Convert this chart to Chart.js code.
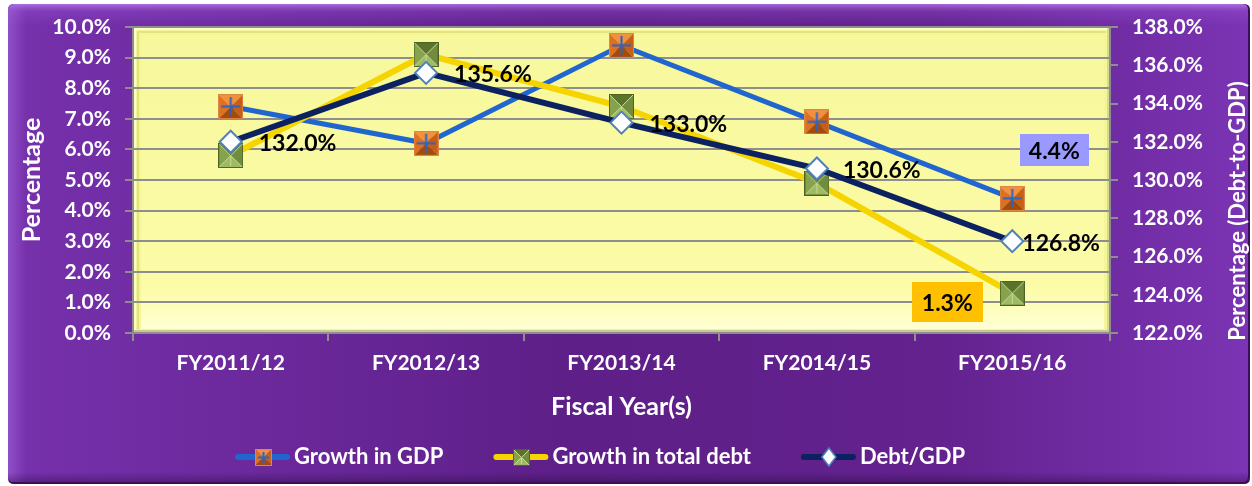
<!DOCTYPE html>
<html>
<head>
<meta charset="utf-8">
<script src="https://cdn.jsdelivr.net/npm/chart.js@4"></script>
<style>
  html,body{margin:0;padding:0;background:#ffffff;}
  #wrap{width:1252px;height:486px;}
  canvas{display:block;}
</style>
</head>
<body>
<div id="wrap"><canvas id="c" width="1252" height="486"></canvas></div>
<script>
// ---- data ----
const categories = ['FY2011/12', 'FY2012/13', 'FY2013/14', 'FY2014/15', 'FY2015/16'];
const gdpGrowth = [7.4, 6.2, 9.4, 6.9, 4.4];
const debtGrowth = [5.8, 9.1, 7.4, 4.9, 1.3];
const debtToGdp = [132.0, 135.6, 133.0, 130.6, 126.8];
const seriesNames = ['Growth in GDP', 'Growth in total debt', 'Debt/GDP'];
const leftTicks = { min: 0, max: 10, step: 1 };
const rightTicks = { min: 122, max: 138, step: 2 };

const FONT = 'Lato, "Open Sans", sans-serif';

// ---- marker images ----
function tri(g, a, b, c, d, e, f, col) {
  g.beginPath(); g.moveTo(a, b); g.lineTo(c, d); g.lineTo(e, f); g.closePath();
  g.fillStyle = col; g.fill();
}
function pyramid(size, faces, border) {
  const c = document.createElement('canvas');
  c.width = c.height = size;
  const g = c.getContext('2d');
  const m = size / 2;
  tri(g, 0, 0, size, 0, m, m, faces.top);
  tri(g, 0, 0, 0, size, m, m, faces.left);
  tri(g, size, 0, size, size, m, m, faces.right);
  tri(g, 0, size, size, size, m, m, faces.bottom);
  g.strokeStyle = border; g.lineWidth = 1;
  g.strokeRect(0.5, 0.5, size - 1, size - 1);
  return { c, g, m };
}
function gdpMarker(size) {
  const p = pyramid(size, { top: '#f2903e', left: '#e0701e', right: '#c85e12', bottom: '#a44a0a' }, '#d9884a');
  const g = p.g, m = p.m;
  g.strokeStyle = '#2a64c8'; g.lineWidth = size > 16 ? 2 : 1.5;
  g.beginPath();
  g.moveTo(3, m); g.lineTo(size - 3, m);
  g.moveTo(m, 3); g.lineTo(m, size - 3);
  g.stroke();
  return p.c;
}
function debtMarker(size) {
  const p = pyramid(size, { top: '#5a722c', left: '#86a24c', right: '#718c3c', bottom: '#9fba64' }, '#4d6322');
  const g = p.g, m = p.m;
  g.strokeStyle = '#c8dc94'; g.lineWidth = 1;
  g.beginPath();
  g.moveTo(1, 1); g.lineTo(size - 1, size - 1);
  g.moveTo(size - 1, 1); g.lineTo(1, size - 1);
  g.moveTo(m, m); g.lineTo(m, size - 2);
  g.stroke();
  return p.c;
}
const gdpImg = gdpMarker(25);
const debtImg = debtMarker(25);
const gdpLeg = gdpMarker(17);
const debtLeg = debtMarker(17);

// ---- background plugin ----
function roundRect(g, x, y, w, h, r) {
  g.beginPath();
  g.moveTo(x + r, y); g.lineTo(x + w - r, y); g.quadraticCurveTo(x + w, y, x + w, y + r);
  g.lineTo(x + w, y + h - r); g.quadraticCurveTo(x + w, y + h, x + w - r, y + h);
  g.lineTo(x + r, y + h); g.quadraticCurveTo(x, y + h, x, y + h - r);
  g.lineTo(x, y + r); g.quadraticCurveTo(x, y, x + r, y); g.closePath();
}
const bgPlugin = {
  id: 'bg',
  beforeDraw(chart) {
    const g = chart.ctx, W = chart.width, H = chart.height, a = chart.chartArea;
    g.save();
    g.fillStyle = '#ffffff'; g.fillRect(0, 0, W, H);
    const fx = 8, fy = 4, fw = W - 10, fh = H - 6;
    roundRect(g, fx, fy, fw, fh, 6);
    g.fillStyle = '#3a1055'; g.fill();
    roundRect(g, fx, fy, fw - 2, fh - 2, 6);
    const hg = g.createLinearGradient(fx, 0, fx + fw, 0);
    hg.addColorStop(0, '#7631ac');
    hg.addColorStop(0.45, '#5e1f88');
    hg.addColorStop(0.75, '#63228e');
    hg.addColorStop(1, '#7b34b4');
    g.fillStyle = hg; g.fill();
    g.save();
    roundRect(g, fx, fy, fw - 2, fh - 2, 6); g.clip();
    const tg = g.createLinearGradient(0, fy, 0, fy + 22);
    tg.addColorStop(0, 'rgba(190,130,240,0.75)');
    tg.addColorStop(0.35, 'rgba(150,80,210,0.35)');
    tg.addColorStop(1, 'rgba(150,80,210,0)');
    g.fillStyle = tg; g.fillRect(fx, fy, fw, 22);
    const lg = g.createLinearGradient(fx, 0, fx + 18, 0);
    lg.addColorStop(0, 'rgba(170,110,230,0.5)');
    lg.addColorStop(1, 'rgba(170,110,230,0)');
    g.fillStyle = lg; g.fillRect(fx, fy, 18, fh);
    const bg2 = g.createLinearGradient(0, fy + fh - 12, 0, fy + fh);
    bg2.addColorStop(0, 'rgba(40,10,60,0)');
    bg2.addColorStop(1, 'rgba(40,10,60,0.45)');
    g.fillStyle = bg2; g.fillRect(fx, fy + fh - 12, fw, 12);
    g.restore();

    // plot area (yellow)
    const x0 = a.left, y0 = a.top, w = a.right - a.left, h = a.bottom - a.top;
    g.fillStyle = '#f5f59a'; g.fillRect(x0, y0, w, h);
    const yg = g.createLinearGradient(0, y0, 0, y0 + h);
    yg.addColorStop(0, '#f7f79c');
    yg.addColorStop(0.85, '#fcfca8');
    yg.addColorStop(1, '#ffffd8');
    g.fillStyle = yg; g.fillRect(x0 + 8, y0 + 8, w - 14, h - 12);
    g.fillStyle = '#fdfdc8'; g.fillRect(x0, y0, w, 3);
    g.fillStyle = '#fdfdc8'; g.fillRect(x0, y0, 3, h);
    g.fillStyle = '#e4e47e'; g.fillRect(x0 + 4, y0 + 4, w - 8, 2);
    g.fillStyle = '#e4e47e'; g.fillRect(x0 + 4, y0 + 4, 2, h - 8);
    g.fillStyle = '#d8d890'; g.fillRect(x0 + w - 3, y0, 3, h);
    g.fillStyle = '#c8c890'; g.fillRect(x0, y0 + h - 3, w, 3);
    g.restore();
  }
};

// ---- labels / titles / legend plugin ----
const ratioLabelDx = [28, 28, 28, 26, 10];
const labelPlugin = {
  id: 'labels',
  afterDatasetsDraw(chart) {
    const g = chart.ctx;
    g.save();
    const metaR = chart.getDatasetMeta(0);
    g.font = 'bold 23px ' + FONT;
    g.fillStyle = '#000000';
    g.textBaseline = 'middle';
    g.textAlign = 'left';
    metaR.data.forEach((pt, i) => {
      g.fillText(debtToGdp[i].toFixed(1) + '%', pt.x + ratioLabelDx[i], pt.y + 2);
    });
    const last = categories.length - 1;
    const pG = chart.getDatasetMeta(2).data[last];
    const pD = chart.getDatasetMeta(1).data[last];
    function box(cx, cy, w, h, col, txt) {
      g.fillStyle = col;
      g.fillRect(Math.round(cx - w / 2), Math.round(cy - h / 2), w, h);
      g.fillStyle = '#000';
      g.textAlign = 'center';
      g.fillText(txt, cx, cy + 1);
    }
    box(pG.x + 42, pG.y - 48, 69, 32, '#9999ff', gdpGrowth[last].toFixed(1) + '%');
    box(pD.x - 65, pD.y + 9, 71, 40, '#ffc000', debtGrowth[last].toFixed(1) + '%');
    g.restore();
  },
  afterDraw(chart) {
    const g = chart.ctx, a = chart.chartArea;
    g.save();
    g.translate(chart.width - 14, (a.top + a.bottom) / 2 + 31);
    g.rotate(-Math.PI / 2);
    g.font = 'bold 22px ' + FONT;
    g.fillStyle = '#ffffff';
    g.textAlign = 'center';
    g.textBaseline = 'middle';
    g.fillText('Percentage (Debt-to-GDP)', 0, 0);
    g.restore();

    // legend
    g.save();
    g.font = 'bold 22px ' + FONT;
    g.textBaseline = 'middle';
    g.textAlign = 'left';
    const items = [
      { name: seriesNames[0], color: '#2166cf', img: gdpLeg },
      { name: seriesNames[1], color: '#f6d400', img: debtLeg },
      { name: seriesNames[2], color: '#0c2160', img: null }
    ];
    let x = a.left + 102;
    const y = 457;
    items.forEach(it => {
      g.strokeStyle = it.color; g.lineWidth = 6; g.lineCap = 'round';
      g.beginPath(); g.moveTo(x + 3, y); g.lineTo(x + 52, y); g.stroke();
      const mx = x + 28;
      if (it.img) {
        g.drawImage(it.img, Math.round(mx - it.img.width / 2), Math.round(y - it.img.height / 2));
      } else {
        g.beginPath();
        g.moveTo(mx, y - 9); g.lineTo(mx + 7, y); g.lineTo(mx, y + 9); g.lineTo(mx - 7, y); g.closePath();
        g.fillStyle = '#fff'; g.fill();
        g.strokeStyle = '#4f81bd'; g.lineWidth = 1.5; g.stroke();
      }
      g.fillStyle = '#ffffff';
      g.fillText(it.name, x + 59, y);
      x += 59 + g.measureText(it.name).width + 50;
    });
    g.restore();
  }
};

const gridColor = '#8e8e8e';
const whiteBold = (size) => ({ family: FONT, weight: 'bold', size });

function build() {
  new Chart(document.getElementById('c'), {
    type: 'line',
    data: {
      labels: categories,
      datasets: [
        {
          label: seriesNames[2], data: debtToGdp, yAxisID: 'y2',
          borderColor: '#0c2160', borderWidth: 6,
          pointStyle: 'rectRot', pointRadius: 11, pointHoverRadius: 11,
          pointBackgroundColor: '#ffffff', pointBorderColor: '#4f81bd', pointBorderWidth: 2
        },
        {
          label: seriesNames[1], data: debtGrowth, yAxisID: 'y',
          borderColor: '#f6d400', borderWidth: 6,
          pointStyle: debtImg, pointRadius: 12, pointHoverRadius: 12
        },
        {
          label: seriesNames[0], data: gdpGrowth, yAxisID: 'y',
          borderColor: '#2166cf', borderWidth: 5,
          pointStyle: gdpImg, pointRadius: 12, pointHoverRadius: 12
        }
      ]
    },
    options: {
      responsive: false,
      animation: false,
      devicePixelRatio: 1,
      layout: { padding: { top: 27, left: 0, right: 0, bottom: 0 } },
      plugins: { legend: { display: false }, tooltip: { enabled: false }, title: { display: false } },
      elements: { line: { tension: 0 } },
      scales: {
        x: {
          type: 'category',
          offset: true,
          grid: { offset: true, drawOnChartArea: false, drawTicks: true, tickLength: 8, color: gridColor, lineWidth: 2 },
          border: { display: true, color: gridColor, width: 2 },
          ticks: { color: '#ffffff', font: whiteBold(21), padding: 10, maxRotation: 0, autoSkip: false },
          title: { display: true, text: 'Fiscal Year(s)', color: '#ffffff', font: whiteBold(25), padding: { top: 0, bottom: 64 } },
          afterFit(s) { s.height = 153; }
        },
        y: {
          position: 'left',
          min: leftTicks.min, max: leftTicks.max,
          ticks: {
            stepSize: leftTicks.step, color: '#ffffff', font: whiteBold(21), padding: 14,
            callback: v => Number(v).toFixed(1) + '%'
          },
          grid: { color: gridColor, lineWidth: 2, tickLength: 8, drawTicks: true },
          border: { display: true, color: gridColor, width: 2 },
          title: { display: true, text: 'Percentage', color: '#ffffff', font: whiteBold(25), padding: { top: 17, bottom: 0 } },
          afterFit(s) { s.width = 133; }
        },
        y2: {
          position: 'right',
          min: rightTicks.min, max: rightTicks.max,
          ticks: {
            stepSize: rightTicks.step, color: '#ffffff', font: whiteBold(21), padding: 14,
            callback: v => Number(v).toFixed(1) + '%'
          },
          grid: { drawOnChartArea: false, color: gridColor, lineWidth: 2, tickLength: 8, drawTicks: true },
          border: { display: true, color: gridColor, width: 2 },
          afterFit(s) { s.width = 142; }
        }
      }
    },
    plugins: [bgPlugin, labelPlugin]
  });
}

const fontLoads = ['bold 21px Lato', 'bold 22px Lato', 'bold 25px Lato'].map(f => document.fonts.load(f).catch(() => null));
Promise.race([Promise.all(fontLoads), new Promise(r => setTimeout(r, 800))]).then(build, build);
</script>
</body>
</html>
